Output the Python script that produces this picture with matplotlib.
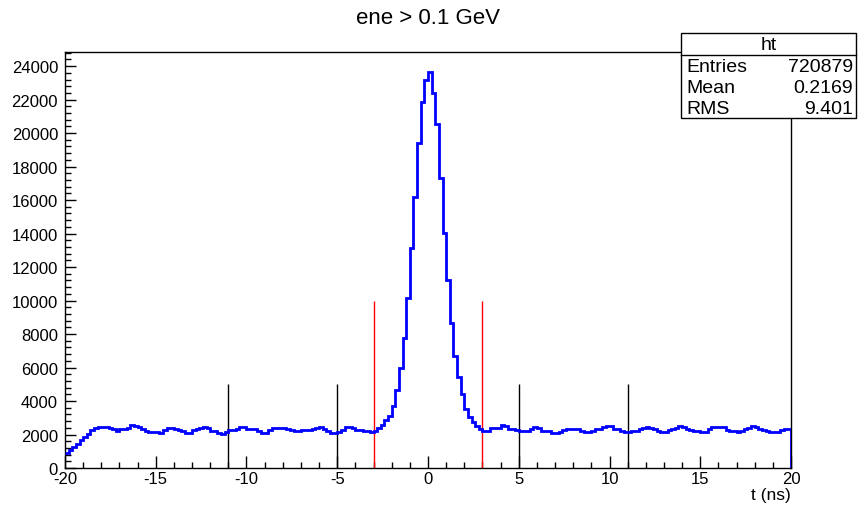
import numpy as np
import matplotlib
matplotlib.use("Agg")
import matplotlib.pyplot as plt
from matplotlib.patches import Rectangle
from matplotlib.lines import Line2D
from matplotlib.ticker import MultipleLocator

plt.rcParams["font.family"] = ["Liberation Sans", "DejaVu Sans"]

# histogram "ht": 200 bins of 0.2 ns from -20 to 20
x_lo, x_hi, n_bins = -20.0, 20.0, 200
counts = [
    880, 1050, 1250, 1450, 1650, 1850, 2050, 2250,            # -20.0 .. -18.4
    2400, 2430, 2430, 2420, 2400, 2300, 2230,                  # -18.4 .. -17.0
    2330, 2350, 2380, 2560, 2520, 2430, 2350, 2200,            # -17.0 .. -15.4
    2140, 2130, 2150, 2120, 2250, 2390, 2400, 2330, 2290,      # -15.4 .. -13.6
    2200, 2110, 2110, 2290, 2300, 2380, 2470, 2400,            # -13.6 .. -12.0
    2230, 2230, 2080, 2050, 2130, 2250, 2290, 2330,            # -12.0 .. -10.4
    2430, 2420, 2330, 2330, 2300, 2200, 2110, 2110,            # -10.4 .. -8.8
    2250, 2390, 2390, 2400, 2390, 2350, 2280, 2230, 2230,      # -8.8 .. -7.0
    2270, 2290, 2290, 2310, 2380, 2430, 2330,                  # -7.0 .. -5.6
    2200, 2110, 2110, 2150, 2280, 2430, 2430, 2400,            # -5.6 .. -4.0
    2290, 2250, 2190, 2200, 2170,                              # -4.0 .. -3.0
    2229, 2388, 2567, 2885, 3125, 3720, 4657, 5970, 7761, 10130,   # -3.0 .. -1.0
    13117, 16160, 19385, 21870, 23180,                         # -1.0 .. 0.0
    23660, 22390, 20540, 17310, 14030,                         # 0.0 .. 1.0
    11224, 8657, 6667, 5413, 4418, 3522, 3025, 2765, 2527, 2328,   # 1.0 .. 3.0
    2229, 2229, 2390, 2390, 2400, 2590, 2500,                  # 3.0 .. 4.4
    2330, 2330, 2250, 2190, 2190, 2230,                        # 4.4 .. 5.6
    2350, 2430, 2400, 2230, 2230, 2200,                        # 5.6 .. 6.8
    2110, 2110, 2150, 2250, 2330, 2330, 2330, 2300,            # 6.8 .. 8.4
    2200, 2130, 2130, 2180, 2330, 2350, 2430,                  # 8.4 .. 9.8
    2530, 2500, 2330, 2330, 2230, 2130, 2130, 2230,            # 9.8 .. 11.4
    2230, 2330, 2400, 2430, 2390, 2330,                        # 11.4 .. 12.6
    2200, 2130, 2130, 2250, 2330, 2390,                        # 12.6 .. 13.8
    2490, 2430, 2330, 2290, 2230, 2200,                        # 13.8 .. 15.0
    2130, 2130, 2300, 2430, 2470, 2470, 2450,                  # 15.0 .. 16.4
    2290, 2230, 2200, 2130, 2230, 2330,                        # 16.4 .. 17.6
    2400, 2490, 2430, 2330, 2290, 2200,                        # 17.6 .. 18.8
    2130, 2130, 2150, 2290, 2330, 2330,                        # 18.8 .. 20.0
]
assert len(counts) == n_bins, len(counts)

# cut markers
red_cuts = [-3, 3]
red_height = 10000
black_cuts = [-11, -5, 5, 11]
black_height = 5000

title = "ene > 0.1 GeV"
stats_name = "ht"
stats_rows = [("Entries", "720879"), ("Mean", "0.2169"), ("RMS", "9.401")]

W, H = 858, 506
fig = plt.figure(figsize=(W / 100, H / 100), dpi=100)
ax = fig.add_axes([65 / W, 37 / H, (791 - 65) / W, (469 - 53) / H])

edges = np.linspace(x_lo, x_hi, n_bins + 1)
vals = np.array(counts, dtype=float)
ax.stairs(vals, edges, color="#0000ff", lw=2.0, baseline=None, zorder=3)
ax.vlines(edges[-1], 0, vals[-1], color="#0000ff", lw=2.0, zorder=3)

ax.vlines(red_cuts, 0, red_height, color="#ff0000", lw=1.0, zorder=2)
ax.vlines(black_cuts, 0, black_height, color="black", lw=1.0, zorder=2)

ax.set_xlim(x_lo, x_hi)
ax.set_ylim(0, 1.05 * vals.max())

ax.xaxis.set_major_locator(MultipleLocator(5))
ax.xaxis.set_minor_locator(MultipleLocator(1))
ax.yaxis.set_major_locator(MultipleLocator(2000))
ax.yaxis.set_minor_locator(MultipleLocator(400))
ax.tick_params(axis="both", which="both", direction="in", top=False, right=False,
               labelsize=12, width=1.0, color="black")
ax.tick_params(axis="x", which="major", length=9, pad=2.5)
ax.tick_params(axis="x", which="minor", length=4.5)
ax.tick_params(axis="y", which="major", length=8, pad=5)
ax.tick_params(axis="y", which="minor", length=4)
ax.set_xticks(np.arange(-20, 21, 5))
ax.set_xticklabels([f"{v:g}" for v in np.arange(-20, 21, 5)])
for s in ax.spines.values():
    s.set_linewidth(1.0)

fig.text(791 / W, 1 - 496 / H, "t (ns)", ha="right", va="center", fontsize=12.5)
fig.text(428 / W, 1 - 18 / H, title, ha="center", va="center", fontsize=16)

# stats box
bx0, bx1, by0, by1, bsep = 681, 856, 34, 119, 56
fig.add_artist(Rectangle((bx0 / W, 1 - by1 / H), (bx1 - bx0) / W, (by1 - by0) / H,
                         transform=fig.transFigure, facecolor="white",
                         edgecolor="black", lw=1.0, zorder=10))
fig.add_artist(Line2D([bx0 / W, bx1 / W], [1 - bsep / H, 1 - bsep / H],
                      transform=fig.transFigure, color="black", lw=1.0, zorder=11))
fig.text((bx0 + bx1) / 2 / W, 1 - 45 / H, stats_name, ha="center", va="center",
         fontsize=14, zorder=12)
for k, (lab, val) in enumerate(stats_rows):
    yy = 1 - (67 + 21.5 * k) / H
    fig.text((bx0 + 5) / W, yy, lab, ha="left", va="center", fontsize=14, zorder=12)
    fig.text((bx1 - 3) / W, yy, val, ha="right", va="center", fontsize=14, zorder=12)

fig.savefig("out.png", dpi=100)
